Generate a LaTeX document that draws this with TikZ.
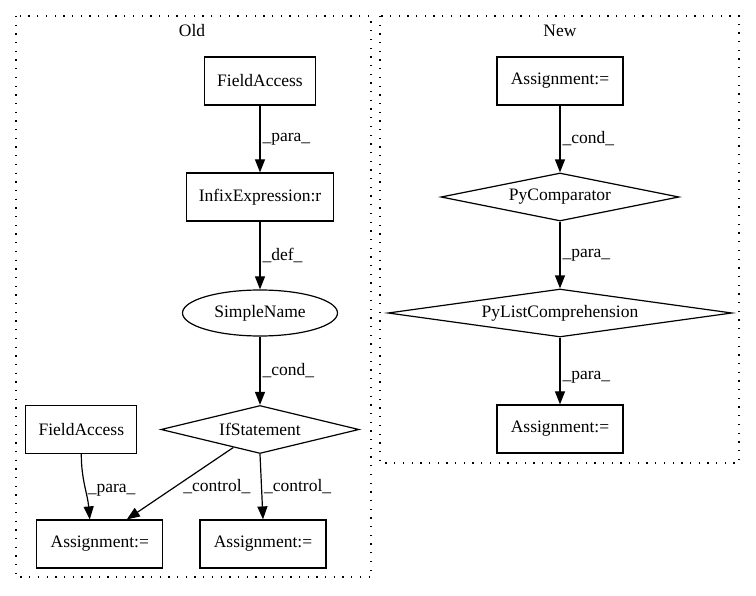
\documentclass[tikz,border=0pt]{standalone}
\usepackage{fontspec}
\setmainfont{Liberation Serif}
\usetikzlibrary{positioning,shapes.geometric,arrows.meta}
\begin{document}
\begin{tikzpicture}[
x=1pt, y=1pt,
font=\fontsize{17.5}{21}\selectfont,
box/.style={rectangle, draw=black, line width=1.2pt, minimum height=48pt, inner sep=0pt},
choice/.style={diamond, draw=black, line width=1.2pt, minimum height=48pt, aspect=6, inner sep=0pt},
oval/.style={ellipse, draw=black, line width=1.2pt, minimum width=155pt, minimum height=46pt, inner sep=0pt},
cluster/.style={draw=black, line width=1.2pt, dash pattern=on 1.3pt off 7.4pt},
flow/.style={-{Triangle[length=13pt,width=10pt]}, line width=1.2pt},
lbl/.style={inner sep=2pt}
]
\useasboundingbox (0,0) rectangle (756,-596);
\draw[cluster] (16,-16) rectangle (371,-577);
\draw[cluster] (380,-16) rectangle (739,-463);
\node (old_label) at (192,-31) {Old};
\node (new_label) at (560,-31) {New};

\node[box, minimum width=111pt](old_field) at (260,-81){FieldAccess};
\node[box, minimum width=147pt](old_infix)[below=66.8pt of old_field]{InfixExpression:r};
\node[oval](old_simple)[below=67.8pt of old_infix]{SimpleName};
\node[choice, minimum width=198pt](old_if)[below=68.3pt of old_simple]{IfStatement};
\node[box, minimum width=126pt](old_assign_2)[below=65.3pt of old_if,xshift=3pt]{Assignment:=};
\node[box, minimum width=126pt](old_assign)[left=36pt of old_assign_2]{Assignment:=};
\node[box, minimum width=111pt](old_field_2)[left=23pt of old_if]{FieldAccess};

\draw[flow] (old_field) -- node[lbl, right]{\_para\_} (old_infix);
\draw[flow] (old_infix) -- node[lbl, right]{\_def\_} (old_simple);
\draw[flow] (old_simple) -- node[lbl, right]{\_cond\_} (old_if);
\draw[flow] (old_field_2.south) to[out=-90,in=95] node[lbl, right, pos=.55]{\_para\_} ([xshift=-10pt]old_assign.north);
\draw[flow] (old_if) -- node[lbl, pos=.55, anchor=west, xshift=6pt]{\_control\_} ([xshift=27pt]old_assign.north);
\draw[flow] (old_if.south) -- node[lbl, right]{\_control\_} (old_assign_2.north);

\node[box, minimum width=126pt](new_assign) at (560,-81){Assignment:=};
\node[choice, minimum width=238pt](new_cmp)[below=66.8pt of new_assign]{PyComparator};
\node[choice, minimum width=344pt](new_list)[below=66.8pt of new_cmp]{PyListComprehension};
\node[box, minimum width=126pt](new_assign_2)[below=66.8pt of new_list]{Assignment:=};

\draw[flow] (new_assign) -- node[lbl, right]{\_cond\_} (new_cmp);
\draw[flow] (new_cmp) -- node[lbl, right]{\_para\_} (new_list);
\draw[flow] (new_list) -- node[lbl, right, pos=.6]{\_para\_} (new_assign_2);
\end{tikzpicture}
\end{document}
